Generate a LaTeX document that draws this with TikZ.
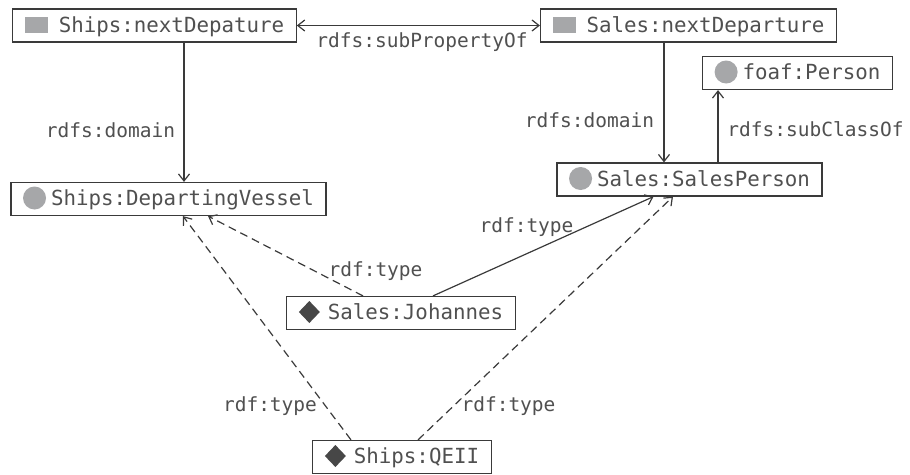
\documentclass[tikz,border=0pt]{standalone}
\usepackage{fontspec}
\newfontfamily\dmono{DejaVu Sans Mono}
\usetikzlibrary{arrows.meta}
\definecolor{txt}{HTML}{505050}
\definecolor{ln}{HTML}{3A3A3A}
\definecolor{icongray}{HTML}{A6A7A9}
\definecolor{diam}{HTML}{474747}
\newcommand{\sqicon}{\tikz[baseline=0pt]\fill[icongray] (0,-0.5pt) rectangle (23pt,15.5pt);\hspace{11pt}}
\newcommand{\circicon}{\tikz[baseline=0pt]{\path (0,-4pt) rectangle (23pt,19pt);\fill[icongray] (11.5pt,7.5pt) circle (11.5pt);}\hspace{5pt}}
\newcommand{\diaicon}{\tikz[baseline=0pt]{\fill[diam] (0,7.5pt) -- (10.5pt,18.5pt) -- (21pt,7.5pt) -- (10.5pt,-3.5pt) -- cycle;}\hspace{8pt}}
\begin{document}
\begin{tikzpicture}[x=1pt,y=-1pt,
  box/.style={draw=ln, line width=1.2pt, fill=white, text=txt,
    font=\dmono\fontsize{20.8pt}{24pt}\selectfont,
    text height=17pt, text depth=4pt, inner ysep=6pt, inner xsep=12pt, minimum height=33pt},
  lbl/.style={text=txt, font=\dmono\fontsize{19.5pt}{23pt}\selectfont, inner sep=0pt, anchor=base},
  conn/.style={draw=ln, line width=1.2pt, -{Straight Barb[length=7pt,width=11pt]}},
  dconn/.style={conn, dash pattern=on 8pt off 5pt}
]
\useasboundingbox (0,0) rectangle (910,474);
\fill[white] (0,0) rectangle (910,474);

\node[box] (snd) at (154.5,25.5) {\sqicon Ships:nextDepature};
\node[box] (salesnd) at (688.5,25.5) {\sqicon Sales:nextDeparture};
\node[box] (foaf) at (797.5,73) {\circicon foaf:Person};
\node[box] (sp) at (689.5,179.5) {\circicon Sales:SalesPerson};
\node[box] (dv) at (168.5,199) {\circicon Ships:DepartingVessel};
\node[box] (joh) at (401,313) {\diaicon Sales:Johannes};
\node[box] (qe) at (402,457) {\diaicon Ships:QEII};

\draw[conn, {Straight Barb[length=7pt,width=11pt]}-{Straight Barb[length=7pt,width=11pt]}] (snd.east) -- (salesnd.west);
\draw[conn] ([xshift=29.5pt]snd.south) -- ([xshift=15.5pt]dv.north);
\draw[conn] ([xshift=-24.5pt]salesnd.south) -- ([xshift=-25.5pt]sp.north);
\draw[conn] ([xshift=28.5pt]sp.north) -- ([xshift=-79.5pt]foaf.south);
\draw[conn] ([xshift=32pt]joh.north) -- ([xshift=-36pt]sp.south);
\draw[dconn] ([xshift=-38pt]joh.north) -- ([xshift=39.5pt]dv.south);
\draw[dconn] ([xshift=-51pt]qe.north) -- ([xshift=14.5pt]dv.south);
\draw[dconn] ([xshift=16pt]qe.north) -- ([xshift=-16.5pt]sp.south);

\node[lbl] (l1) at (422,47.5) {rdfs:subPropertyOf};
\node[lbl] (l2) at (110.5,137) {rdfs:domain};
\node[lbl] (l3) at (589.5,127.5) {rdfs:domain};
\node[lbl] (l4) at (815.5,136) {rdfs:subClassOf};
\node[lbl] (l5) at (526.5,232.5) {rdf:type};
\node[lbl] (l6) at (375.5,276.5) {rdf:type};
\node[lbl] (l7) at (270,411.5) {rdf:type};
\node[lbl] (l8) at (508.5,411.5) {rdf:type};
\end{tikzpicture}
\end{document}
